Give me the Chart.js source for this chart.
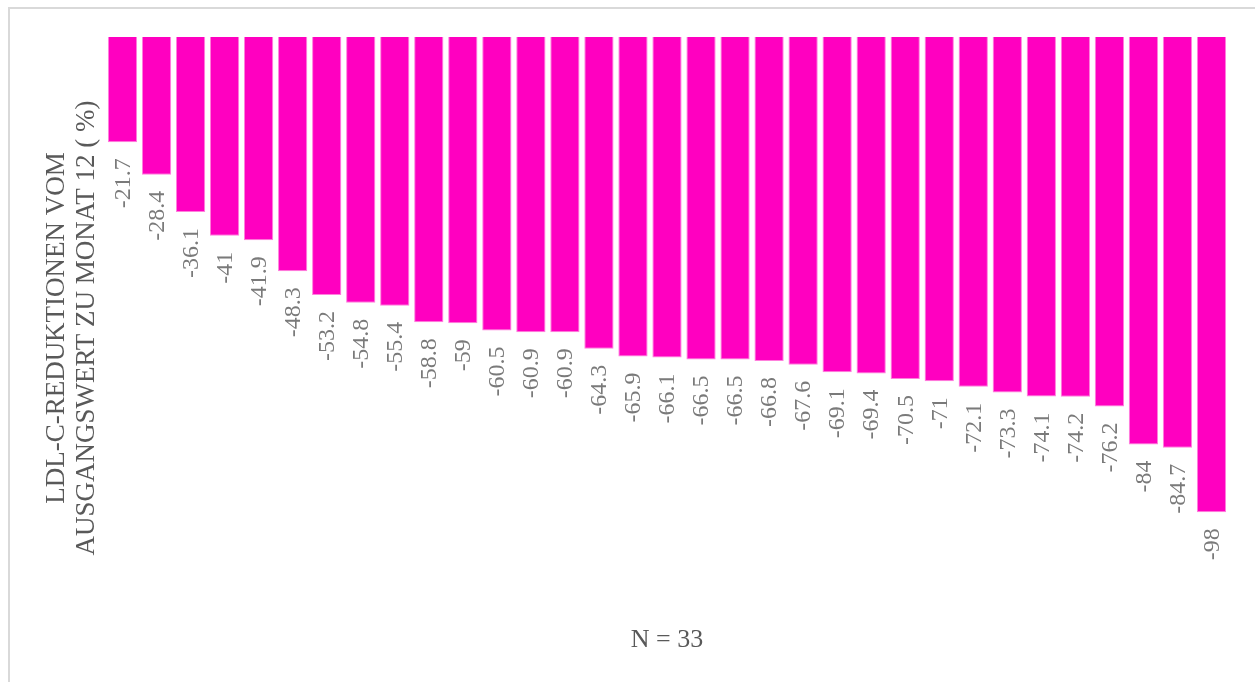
<!DOCTYPE html>
<html>
<head>
<meta charset="utf-8">
<script src="https://cdn.jsdelivr.net/npm/chart.js@4"></script>
<style>
  html, body { margin: 0; padding: 0; background: #ffffff; }
  #wrap { width: 1255px; height: 682px; }
</style>
</head>
<body>
<div id="wrap"><canvas id="c" width="1255" height="682"></canvas></div>
<script>
// Patients, sorted by LDL-C change from baseline to month 12
const patients = Array.from({ length: 33 }, (_, i) => 'P' + (i + 1));
const reductions = [
  -21.7, -28.4, -36.1, -41, -41.9, -48.3, -53.2, -54.8, -55.4, -58.8, -59,
  -60.5, -60.9, -60.9, -64.3, -65.9, -66.1, -66.5, -66.5, -66.8, -67.6,
  -69.1, -69.4, -70.5, -71, -72.1, -73.3, -74.1, -74.2, -76.2, -84, -84.7, -98
];
const yTitleLines = ['LDL-C-REDUKTIONEN VOM', 'AUSGANGSWERT ZU MONAT 12 ( %)'];
const xTitle = 'N = 33';

const SERIF = '"Liberation Serif", "Times New Roman", serif';

// Frame, rotated value labels and axis titles
const decorations = {
  id: 'decorations',
  beforeDraw(chart) {
    const ctx = chart.ctx;
    ctx.save();
    ctx.strokeStyle = '#d9d9d9';
    ctx.lineWidth = 2;
    ctx.strokeRect(9, 8, 1400, 800);
    ctx.restore();
  },
  afterDatasetsDraw(chart) {
    const ctx = chart.ctx;
    const area = chart.chartArea;
    const meta = chart.getDatasetMeta(0);
    const values = chart.data.datasets[0].data;

    // value labels, reading upward, just below each bar
    ctx.save();
    ctx.fillStyle = '#7a7a7a';
    ctx.font = '24px ' + SERIF;
    ctx.textAlign = 'right';
    ctx.textBaseline = 'middle';
    meta.data.forEach((bar, i) => {
      ctx.save();
      ctx.translate(bar.x + 1, bar.y + 16);
      ctx.rotate(-Math.PI / 2);
      ctx.fillText(String(values[i]), 0, 0);
      ctx.restore();
    });
    ctx.restore();

    // y-axis title, two lines
    ctx.save();
    ctx.fillStyle = '#595959';
    ctx.font = '27px ' + SERIF;
    ctx.textAlign = 'center';
    ctx.textBaseline = 'alphabetic';
    ctx.translate(64, 328);
    ctx.rotate(-Math.PI / 2);
    ctx.fillText(yTitleLines[0], 0, 0);
    ctx.fillText(yTitleLines[1], 0, 30);
    ctx.restore();

    // x-axis title
    ctx.save();
    ctx.fillStyle = '#595959';
    ctx.font = '26px ' + SERIF;
    ctx.textAlign = 'center';
    ctx.textBaseline = 'alphabetic';
    ctx.fillText(xTitle, (area.left + area.right) / 2, 647);
    ctx.restore();
  }
};

function build() {
  new Chart(document.getElementById('c'), {
    type: 'bar',
    data: {
      labels: patients,
      datasets: [{
        data: reductions,
        backgroundColor: '#ff00c0',
        borderColor: '#ff80dc',
        borderWidth: 1,
        barPercentage: 0.86,
        categoryPercentage: 1.0
      }]
    },
    options: {
      responsive: false,
      animation: false,
      devicePixelRatio: 1,
      layout: { padding: { left: 105.5, right: 26.5, top: 37, bottom: 160 } },
      plugins: { legend: { display: false }, tooltip: { enabled: false } },
      scales: {
        x: { display: false, offset: true },
        y: { display: false, min: -100, max: 0 }
      }
    },
    plugins: [decorations]
  });
}

Promise.all([
  document.fonts.load('24px "Liberation Serif"'),
  document.fonts.load('27px "Liberation Serif"')
]).then(build, build);
</script>
</body>
</html>
